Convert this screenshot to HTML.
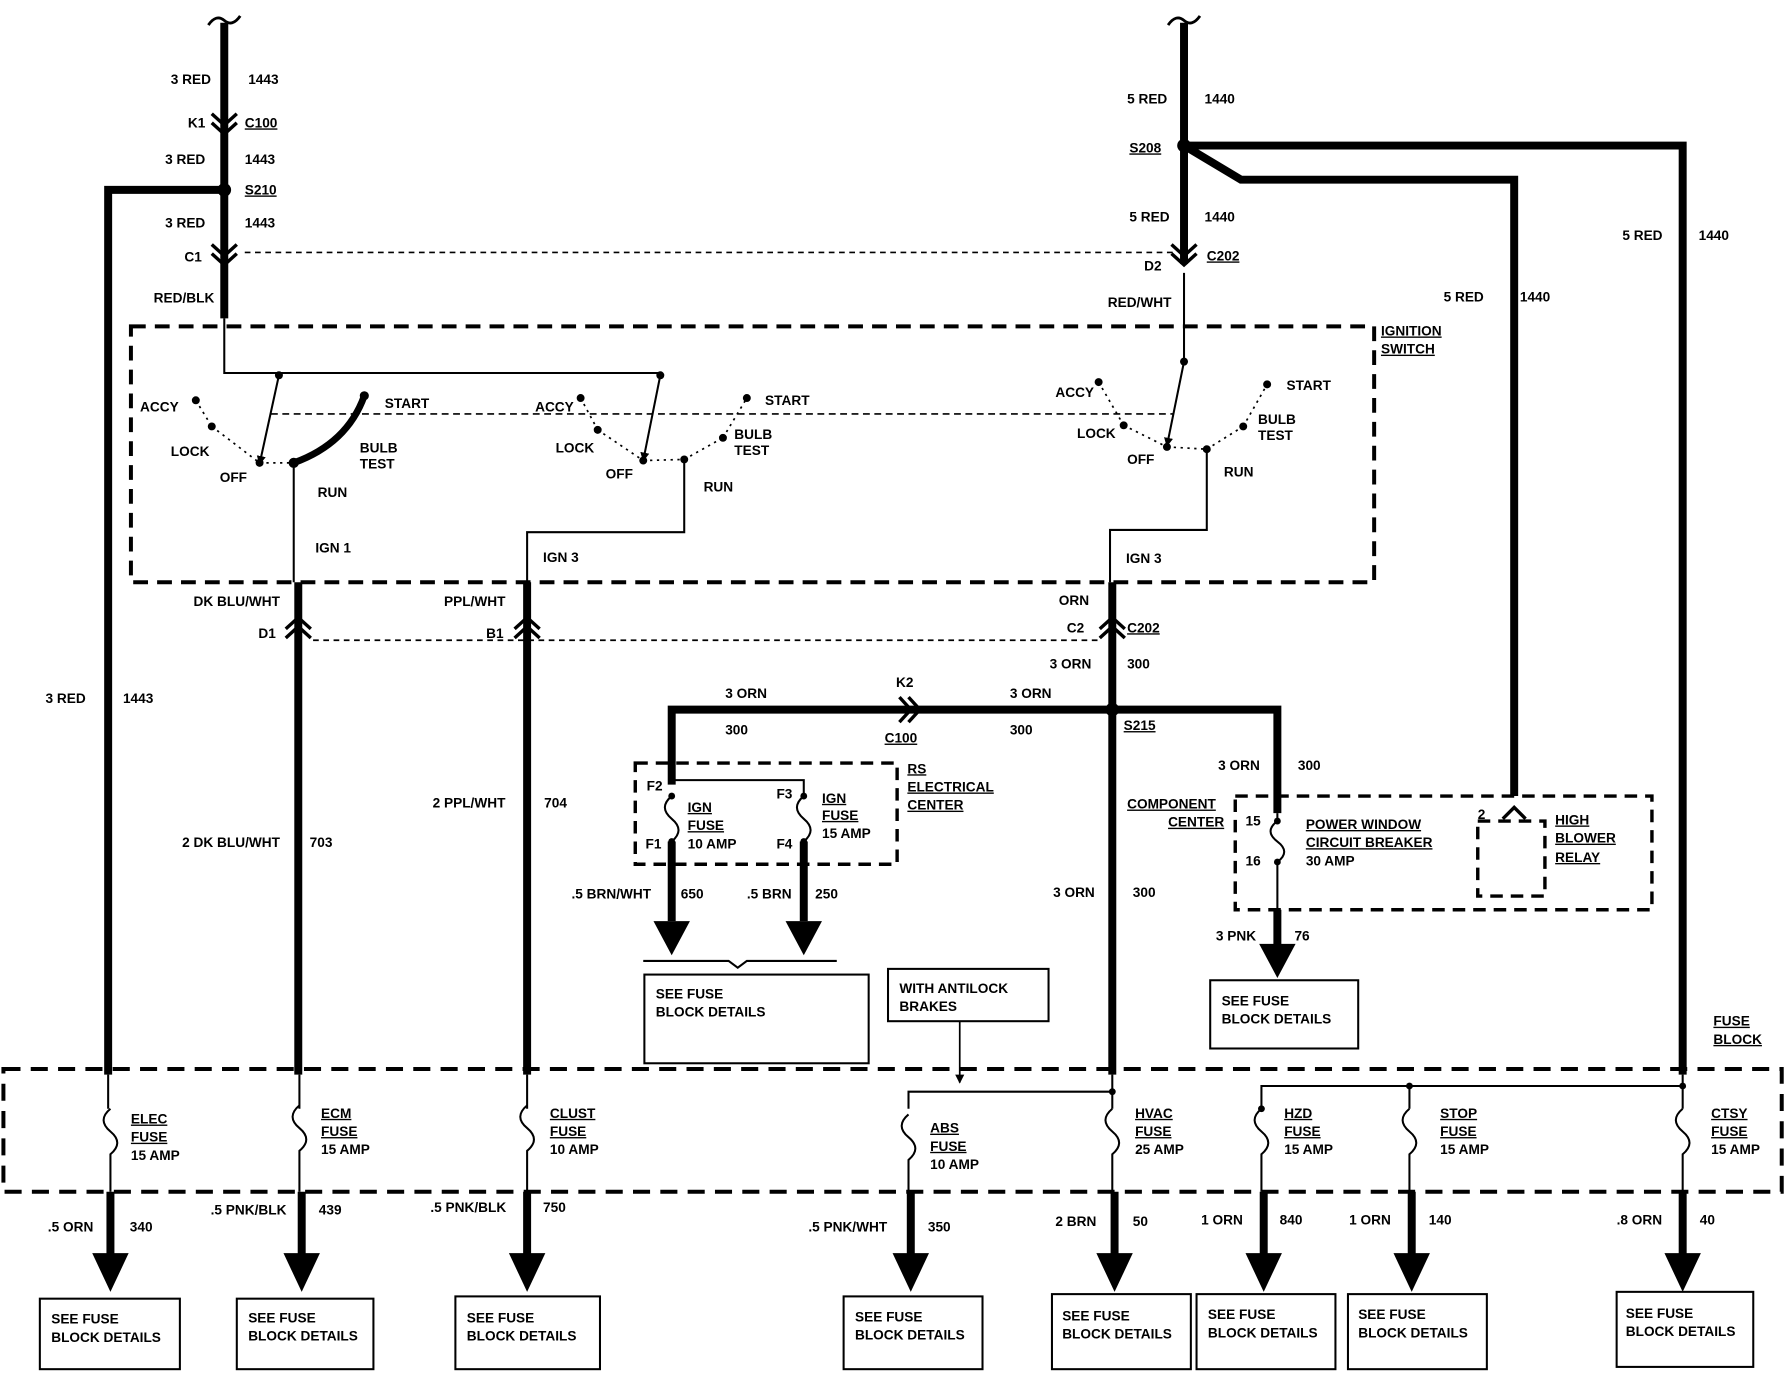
<!DOCTYPE html>
<html><head><meta charset="utf-8"><style>
html,body{margin:0;padding:0;background:#fff;}
svg{display:block;}
text{font-family:"Liberation Sans",sans-serif;font-weight:bold;font-size:12px;fill:#000;}
</style></head><body>
<svg width="1784" height="1376" viewBox="0 0 1567 1210" preserveAspectRatio="none" xmlns="http://www.w3.org/2000/svg">
<defs>
<marker id="ah" markerWidth="8" markerHeight="8" refX="7" refY="4" orient="auto" markerUnits="userSpaceOnUse"><path d="M0,0 L8,4 L0,8 z"/></marker>
</defs>
<rect width="1567" height="1210" fill="#fff"/>
<g fill="none" stroke="#000">
<path d="M197,20 V280" stroke-width="7"/>
<path d="M183,22 q7,-10 14,-4 q7,6 14,-4" stroke-width="2.5"/>
<path d="M186,100 l11,10 l11,-10 M186,108 l11,10 l11,-10" stroke-width="3"/>
<path d="M186,215 l11,10 l11,-10 M186,223 l11,10 l11,-10" stroke-width="3"/>
<path d="M197,167 H95 V945" stroke-width="7"/>
<path d="M215,222 H1030" stroke-width="1.5" stroke-dasharray="5,4"/>
<path d="M197,280 V328 H580" stroke-width="1.8"/>
<path d="M245,330 L228,408" stroke-width="1.8" marker-end="url(#ah)"/>
<path d="M580,330 L565,405" stroke-width="1.8" marker-end="url(#ah)"/>
<path d="M1040,20 V232" stroke-width="7"/>
<path d="M1026,22 q7,-10 14,-4 q7,6 14,-4" stroke-width="2.5"/>
<path d="M1029,215 l11,10 l11,-10 M1029,223 l11,10 l11,-10" stroke-width="3"/>
<path d="M1040,128 H1478 V945" stroke-width="7"/>
<path d="M1040,128 L1090,158 H1330 V700" stroke-width="7"/>
<path d="M1040,240 V318" stroke-width="1.8"/>
<path d="M1040,318 L1025,392" stroke-width="1.8" marker-end="url(#ah)"/>
<rect x="115" y="287" width="1092" height="225" stroke-width="3.5" stroke-dasharray="13,8"/>
<path d="M238,364 H1030" stroke-width="1.5" stroke-dasharray="6,4"/>
<path d="M258,407 Q305,390 320,348" stroke-width="6"/>
<path d="M172,352 L186,375 M186,375 L228,407 M228,407 L258,407" stroke-width="1.5" stroke-dasharray="2,4"/>
<path d="M510,350 L525,378 M525,378 L565,405 M565,405 L601,404 M601,404 L635,385 M635,385 L656,350" stroke-width="1.5" stroke-dasharray="2,4"/>
<path d="M965,336 L987,374 M987,374 L1025,393 M1025,393 L1060,395 M1060,395 L1092,375 M1092,375 L1113,338" stroke-width="1.5" stroke-dasharray="2,4"/>
<path d="M258,407 V512" stroke-width="1.8"/>
<path d="M601,404 V468 H463 V512" stroke-width="1.8"/>
<path d="M1060,395 V466 H975 V512" stroke-width="1.8"/>
<path d="M262,512 V945" stroke-width="7"/>
<path d="M463,512 V945" stroke-width="7"/>
<path d="M977,512 V945" stroke-width="7"/>
<path d="M251,553 l11,-10 l11,10 M251,561 l11,-10 l11,10" stroke-width="3"/>
<path d="M452,553 l11,-10 l11,10 M452,561 l11,-10 l11,10" stroke-width="3"/>
<path d="M966,553 l11,-10 l11,10 M966,561 l11,-10 l11,10" stroke-width="3"/>
<path d="M275,563 H965" stroke-width="1.5" stroke-dasharray="5,4"/>
<path d="M977,624 H590 V690" stroke-width="7"/>
<path d="M790,613 l10,11 l-10,11 M798,613 l10,11 l-10,11" stroke-width="3"/>
<path d="M977,624 H1122 V715" stroke-width="7"/>
<rect x="558" y="671" width="230" height="89" stroke-width="3" stroke-dasharray="11,7"/>
<path d="M590,686 H706 V700" stroke-width="1.8"/>
<path d="M590,700 q-12,10 0,20 q12,10 0,20" stroke-width="1.8"/>
<path d="M706,700 q-12,10 0,20 q12,10 0,20" stroke-width="1.8"/>
<path d="M590,740 V810" stroke-width="7"/>
<path d="M706,740 V810" stroke-width="7"/>
<path d="M565,845 H640 l8,6 l8,-6 H735" stroke-width="1.8"/>
<rect x="566" y="857" width="197" height="78" stroke-width="1.8"/>
<rect x="1085" y="700" width="366" height="100" stroke-width="3" stroke-dasharray="11,7"/>
<rect x="1298" y="722" width="59" height="66" stroke-width="3" stroke-dasharray="11,7"/>
<path d="M1320,720 l10,-10 l10,10" stroke-width="3"/>
<path d="M1122,715 V722 q-12,9 0,18 q12,9 0,18 V830" stroke-width="1.8"/>
<path d="M1122,800 V832" stroke-width="7"/>
<rect x="1063" y="862" width="130" height="60" stroke-width="1.8"/>
<rect x="780" y="852" width="141" height="46" stroke-width="1.8"/>
<path d="M843,898 V952" stroke-width="1.5" marker-end="url(#ah)"/>
<rect x="3" y="940" width="1562" height="108" stroke-width="3.5" stroke-dasharray="15,9"/>
<path d="M977,945 V960 H798 V975" stroke-width="1.8"/>
<path d="M1478,945 V955 H1108 V975 M1238,955 V975" stroke-width="1.8"/>
<path d="M95,945 V975 M263,945 V975 M463,945 V975 M977,960 V975 M1478,955 V975" stroke-width="1.8"/>
<g stroke-width="1.8">
<path d="M97,975 q-12,10 0,20 q12,10 0,20 V1048"/>
<path d="M263,972 q-12,10 0,20 q12,10 0,20 V1048"/>
<path d="M463,972 q-12,10 0,20 q12,10 0,20 V1048"/>
<path d="M798,980 q-12,10 0,20 q12,10 0,20 V1048"/>
<path d="M977,975 q-12,10 0,20 q12,10 0,20 V1048"/>
<path d="M1108,975 q-12,10 0,20 q12,10 0,20 V1048"/>
<path d="M1238,975 q-12,10 0,20 q12,10 0,20 V1048"/>
<path d="M1478,975 q-12,10 0,20 q12,10 0,20 V1048"/>
</g>
<g stroke-width="7">
<path d="M97,1048 V1105 M265,1048 V1105 M463,1048 V1105 M800,1048 V1105 M979,1048 V1105 M1110,1048 V1105 M1240,1048 V1105 M1478,1048 V1105"/>
</g>
<g stroke-width="1.8">
<rect x="35" y="1142" width="123" height="62"/>
<rect x="208" y="1142" width="120" height="62"/>
<rect x="400" y="1140" width="127" height="64"/>
<rect x="741" y="1140" width="122" height="64"/>
<rect x="924" y="1138" width="122" height="66"/>
<rect x="1051" y="1138" width="122" height="66"/>
<rect x="1184" y="1138" width="122" height="66"/>
<rect x="1420" y="1136" width="120" height="66"/>
</g>
</g>
<g fill="#000">
<polygon points="574,810 606,810 590,840"/>
<polygon points="690,810 722,810 706,840"/>
<polygon points="1106,830 1138,830 1122,860"/>
<polygon points="81,1102 113,1102 97,1136"/>
<polygon points="249,1102 281,1102 265,1136"/>
<polygon points="447,1102 479,1102 463,1136"/>
<polygon points="784,1102 816,1102 800,1136"/>
<polygon points="963,1102 995,1102 979,1136"/>
<polygon points="1094,1102 1126,1102 1110,1136"/>
<polygon points="1224,1102 1256,1102 1240,1136"/>
<polygon points="1462,1102 1494,1102 1478,1136"/>
<circle cx="197" cy="167" r="6"/><circle cx="1040" cy="128" r="6"/><circle cx="977" cy="624" r="6"/>
<circle cx="245" cy="330" r="3.5"/><circle cx="580" cy="330" r="3.5"/><circle cx="1040" cy="318" r="3.5"/>
<circle cx="172" cy="352" r="3.5"/><circle cx="186" cy="375" r="3.5"/><circle cx="228" cy="407" r="3.5"/><circle cx="258" cy="407" r="4.5"/><circle cx="320" cy="348" r="4"/>
<circle cx="510" cy="350" r="3.5"/><circle cx="525" cy="378" r="3.5"/><circle cx="565" cy="405" r="3.5"/><circle cx="601" cy="404" r="3.5"/><circle cx="635" cy="385" r="3.5"/><circle cx="656" cy="350" r="3.5"/>
<circle cx="965" cy="336" r="3.5"/><circle cx="987" cy="374" r="3.5"/><circle cx="1025" cy="393" r="3.5"/><circle cx="1060" cy="395" r="3.5"/><circle cx="1092" cy="375" r="3.5"/><circle cx="1113" cy="338" r="3.5"/>
<circle cx="590" cy="700" r="3"/><circle cx="590" cy="740" r="3"/><circle cx="706" cy="700" r="3"/><circle cx="706" cy="740" r="3"/>
<circle cx="1122" cy="722" r="3"/><circle cx="1122" cy="758" r="3"/>
<circle cx="1108" cy="975" r="3"/><circle cx="1238" cy="955" r="3"/><circle cx="1478" cy="955" r="3"/><circle cx="977" cy="960" r="3"/>
</g>
<text x="150" y="74">3 RED</text><text x="218" y="74">1443</text>
<text x="165" y="112">K1</text><text x="215" y="112" text-decoration="underline">C100</text>
<text x="145" y="144">3 RED</text><text x="215" y="144">1443</text>
<text x="215" y="171" text-decoration="underline">S210</text>
<text x="145" y="200">3 RED</text><text x="215" y="200">1443</text>
<text x="162" y="230">C1</text>
<text x="135" y="266">RED/BLK</text>
<text x="990" y="91">5 RED</text><text x="1058" y="91">1440</text>
<text x="992" y="134" text-decoration="underline">S208</text>
<text x="992" y="195">5 RED</text><text x="1058" y="195">1440</text>
<text x="1060" y="229" text-decoration="underline">C202</text>
<text x="1005" y="238">D2</text>
<text x="973" y="270">RED/WHT</text>
<text x="1425" y="211">5 RED</text><text x="1492" y="211">1440</text>
<text x="1268" y="265">5 RED</text><text x="1335" y="265">1440</text>
<text x="1213" y="295" text-decoration="underline">IGNITION</text><text x="1213" y="311" text-decoration="underline">SWITCH</text>
<text x="123" y="362">ACCY</text><text x="150" y="401">LOCK</text><text x="193" y="424">OFF</text>
<text x="338" y="359">START</text><text x="316" y="398">BULB</text><text x="316" y="412">TEST</text>
<text x="279" y="437">RUN</text><text x="277" y="486">IGN 1</text>
<text x="470" y="362">ACCY</text><text x="488" y="398">LOCK</text><text x="532" y="421">OFF</text>
<text x="672" y="356">START</text><text x="645" y="386">BULB</text><text x="645" y="400">TEST</text>
<text x="618" y="432">RUN</text><text x="477" y="494">IGN 3</text>
<text x="927" y="349">ACCY</text><text x="946" y="385">LOCK</text><text x="990" y="408">OFF</text>
<text x="1130" y="343">START</text><text x="1105" y="373">BULB</text><text x="1105" y="387">TEST</text>
<text x="1075" y="419">RUN</text><text x="989" y="495">IGN 3</text>
<text x="170" y="533">DK BLU/WHT</text><text x="227" y="561">D1</text>
<text x="390" y="533">PPL/WHT</text><text x="427" y="561">B1</text>
<text x="930" y="532">ORN</text><text x="937" y="556">C2</text><text x="990" y="556" text-decoration="underline">C202</text>
<text x="922" y="588">3 ORN</text><text x="990" y="588">300</text>
<text x="40" y="618">3 RED</text><text x="108" y="618">1443</text>
<text x="637" y="614">3 ORN</text><text x="637" y="646">300</text>
<text x="787" y="604">K2</text><text x="777" y="653" text-decoration="underline">C100</text>
<text x="887" y="614">3 ORN</text><text x="887" y="646">300</text>
<text x="987" y="642" text-decoration="underline">S215</text>
<text x="1070" y="677">3 ORN</text><text x="1140" y="677">300</text>
<text x="797" y="680" text-decoration="underline">RS</text><text x="797" y="696" text-decoration="underline">ELECTRICAL</text><text x="797" y="712" text-decoration="underline">CENTER</text>
<text x="990" y="711" text-decoration="underline">COMPONENT</text><text x="1026" y="727" text-decoration="underline">CENTER</text>
<text x="568" y="695">F2</text><text x="567" y="746">F1</text><text x="682" y="702">F3</text><text x="682" y="746">F4</text>
<text x="604" y="714" text-decoration="underline">IGN</text><text x="604" y="730" text-decoration="underline">FUSE</text><text x="604" y="746">10 AMP</text>
<text x="722" y="706" text-decoration="underline">IGN</text><text x="722" y="721" text-decoration="underline">FUSE</text><text x="722" y="737">15 AMP</text>
<text x="1094" y="726">15</text><text x="1094" y="761">16</text>
<text x="1147" y="729" text-decoration="underline">POWER WINDOW</text><text x="1147" y="745" text-decoration="underline">CIRCUIT BREAKER</text><text x="1147" y="761">30 AMP</text>
<text x="1298" y="720">2</text>
<text x="1366" y="725" text-decoration="underline">HIGH</text><text x="1366" y="741" text-decoration="underline">BLOWER</text><text x="1366" y="758" text-decoration="underline">RELAY</text>
<text x="380" y="710">2 PPL/WHT</text><text x="478" y="710">704</text>
<text x="160" y="745">2 DK BLU/WHT</text><text x="272" y="745">703</text>
<text x="502" y="790">.5 BRN/WHT</text><text x="598" y="790">650</text>
<text x="656" y="790">.5 BRN</text><text x="716" y="790">250</text>
<text x="925" y="789">3 ORN</text><text x="995" y="789">300</text>
<text x="1068" y="827">3 PNK</text><text x="1137" y="827">76</text>
<text x="576" y="878">SEE FUSE</text><text x="576" y="894">BLOCK DETAILS</text>
<text x="790" y="873">WITH ANTILOCK</text><text x="790" y="889">BRAKES</text>
<text x="1073" y="884">SEE FUSE</text><text x="1073" y="900">BLOCK DETAILS</text>
<text x="1505" y="902" text-decoration="underline">FUSE</text><text x="1505" y="918" text-decoration="underline">BLOCK</text>
<text x="115" y="988" text-decoration="underline">ELEC</text><text x="115" y="1004" text-decoration="underline">FUSE</text><text x="115" y="1020">15 AMP</text>
<text x="282" y="983" text-decoration="underline">ECM</text><text x="282" y="999" text-decoration="underline">FUSE</text><text x="282" y="1015">15 AMP</text>
<text x="483" y="983" text-decoration="underline">CLUST</text><text x="483" y="999" text-decoration="underline">FUSE</text><text x="483" y="1015">10 AMP</text>
<text x="817" y="996" text-decoration="underline">ABS</text><text x="817" y="1012" text-decoration="underline">FUSE</text><text x="817" y="1028">10 AMP</text>
<text x="997" y="983" text-decoration="underline">HVAC</text><text x="997" y="999" text-decoration="underline">FUSE</text><text x="997" y="1015">25 AMP</text>
<text x="1128" y="983" text-decoration="underline">HZD</text><text x="1128" y="999" text-decoration="underline">FUSE</text><text x="1128" y="1015">15 AMP</text>
<text x="1265" y="983" text-decoration="underline">STOP</text><text x="1265" y="999" text-decoration="underline">FUSE</text><text x="1265" y="1015">15 AMP</text>
<text x="1503" y="983" text-decoration="underline">CTSY</text><text x="1503" y="999" text-decoration="underline">FUSE</text><text x="1503" y="1015">15 AMP</text>
<text x="42" y="1083">.5 ORN</text><text x="114" y="1083">340</text>
<text x="185" y="1068">.5 PNK/BLK</text><text x="280" y="1068">439</text>
<text x="378" y="1066">.5 PNK/BLK</text><text x="477" y="1066">750</text>
<text x="710" y="1083">.5 PNK/WHT</text><text x="815" y="1083">350</text>
<text x="927" y="1078">2 BRN</text><text x="995" y="1078">50</text>
<text x="1055" y="1077">1 ORN</text><text x="1124" y="1077">840</text>
<text x="1185" y="1077">1 ORN</text><text x="1255" y="1077">140</text>
<text x="1420" y="1077">.8 ORN</text><text x="1493" y="1077">40</text>
<text x="45" y="1164">SEE FUSE</text><text x="45" y="1180">BLOCK DETAILS</text>
<text x="218" y="1163">SEE FUSE</text><text x="218" y="1179">BLOCK DETAILS</text>
<text x="410" y="1163">SEE FUSE</text><text x="410" y="1179">BLOCK DETAILS</text>
<text x="751" y="1162">SEE FUSE</text><text x="751" y="1178">BLOCK DETAILS</text>
<text x="933" y="1161">SEE FUSE</text><text x="933" y="1177">BLOCK DETAILS</text>
<text x="1061" y="1160">SEE FUSE</text><text x="1061" y="1176">BLOCK DETAILS</text>
<text x="1193" y="1160">SEE FUSE</text><text x="1193" y="1176">BLOCK DETAILS</text>
<text x="1428" y="1159">SEE FUSE</text><text x="1428" y="1175">BLOCK DETAILS</text>
</svg>
</body></html>
